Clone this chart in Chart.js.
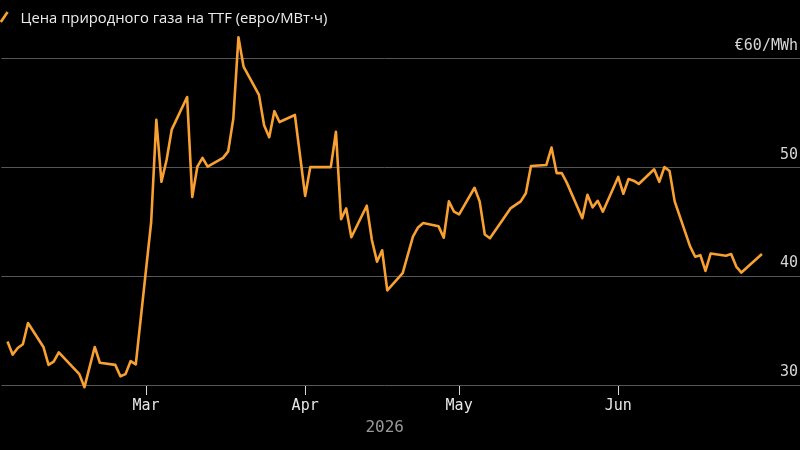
<!DOCTYPE html>
<html>
<head>
<meta charset="utf-8">
<script src="https://cdn.jsdelivr.net/npm/chart.js@4/dist/chart.umd.min.js"></script>
<style>
  html, body { margin: 0; padding: 0; background: #000; }
  #wrap { width: 800px; height: 450px; background: #000; }
</style>
</head>
<body>
<div id="wrap"><canvas id="c" width="800" height="450"></canvas></div>
<script>
const seriesName = 'Цена природного газа на TTF (евро/МВт·ч)';
const dates = [
  '2026-02-02','2026-02-03','2026-02-04','2026-02-05','2026-02-06',
  '2026-02-09','2026-02-10','2026-02-11','2026-02-12',
  '2026-02-16','2026-02-17','2026-02-19','2026-02-20',
  '2026-02-23','2026-02-24','2026-02-25','2026-02-26','2026-02-27',
  '2026-03-02','2026-03-03','2026-03-04','2026-03-05','2026-03-06',
  '2026-03-09','2026-03-10','2026-03-11','2026-03-12','2026-03-13',
  '2026-03-16','2026-03-17','2026-03-18','2026-03-19','2026-03-20',
  '2026-03-23','2026-03-24','2026-03-25','2026-03-26','2026-03-27',
  '2026-03-30','2026-04-01','2026-04-02',
  '2026-04-06','2026-04-07','2026-04-08','2026-04-09','2026-04-10',
  '2026-04-13','2026-04-14','2026-04-15','2026-04-16','2026-04-17',
  '2026-04-20','2026-04-22','2026-04-23','2026-04-24',
  '2026-04-27','2026-04-28','2026-04-29','2026-04-30','2026-05-01',
  '2026-05-04','2026-05-05','2026-05-06','2026-05-07',
  '2026-05-11','2026-05-13','2026-05-14','2026-05-15',
  '2026-05-18','2026-05-19','2026-05-20','2026-05-21','2026-05-22',
  '2026-05-25','2026-05-26','2026-05-27','2026-05-28','2026-05-29',
  '2026-06-01','2026-06-02','2026-06-03','2026-06-04','2026-06-05',
  '2026-06-08','2026-06-09','2026-06-10','2026-06-11','2026-06-12',
  '2026-06-15','2026-06-16','2026-06-17','2026-06-18','2026-06-19',
  '2026-06-22','2026-06-23','2026-06-24','2026-06-25',
  '2026-06-29'
];
const prices = [
  34.0, 32.8, 33.4, 33.75, 35.7,
  33.5, 31.85, 32.15, 33.0,
  31.0, 29.8, 33.5, 32.05,
  31.85, 30.8, 31.0, 32.2, 31.9,
  45.0, 54.4, 48.7, 50.7, 53.5,
  56.5, 47.3, 50.1, 50.9, 50.1,
  50.9, 51.5, 54.5, 62.0, 59.3,
  56.7, 53.9, 52.8, 55.2, 54.2,
  54.85, 47.4, 50.05,
  50.05, 53.3, 45.25, 46.25, 43.6,
  46.5, 43.35, 41.35, 42.4, 38.7,
  40.3, 43.65, 44.5, 44.9,
  44.6, 43.55, 46.9, 45.95, 45.7,
  48.15, 46.9, 43.85, 43.5,
  46.25, 46.9, 47.65, 50.15,
  50.25, 51.85, 49.5, 49.5, 48.6,
  45.35, 47.5, 46.35, 46.95, 45.95,
  49.15, 47.6, 48.95, 48.8, 48.5,
  49.85, 48.7, 50.05, 49.7, 46.9,
  42.75, 41.8, 41.95, 40.5, 42.1,
  41.9, 42.05, 40.9, 40.35,
  42.05
];
const monthTickDates = ['2026-03-01','2026-04-01','2026-05-01','2026-06-01'];
const monthTickLabels = ['Mar','Apr','May','Jun'];
const yTickValues = [30, 40, 50, 60];
const yTopLabel = '€60/MWh';
const yearLabel = '2026';

const ORIGIN = Date.UTC(2026, 2, 1);
function dayOf(s) {
  const p = s.split('-').map(Number);
  return (Date.UTC(p[0], p[1] - 1, p[2]) - ORIGIN) / 86400000;
}
const points = dates.map((d, i) => ({ x: dayOf(d), y: prices[i] }));
const monthTicks = monthTickDates.map(dayOf);

const LINE = '#f8a031';
const GRID = '#565656';
const MONO = '"DejaVu Sans Mono", monospace';

const legendPlugin = {
  id: 'customLegend',
  afterDraw(chart) {
    const ctx = chart.ctx;
    ctx.save();
    ctx.strokeStyle = LINE;
    ctx.lineWidth = 2.6;
    ctx.lineCap = 'butt';
    ctx.beginPath();
    ctx.moveTo(0.8, 22);
    ctx.lineTo(7.6, 12);
    ctx.stroke();
    ctx.fillStyle = '#ececec';
    ctx.font = '14.8px "Open Sans", sans-serif';
    ctx.textBaseline = 'alphabetic';
    ctx.textAlign = 'left';
    ctx.fillText(seriesName, 20.5, 22.5);
    ctx.restore();
  }
};

const chart = new Chart(document.getElementById('c'), {
  type: 'line',
  data: {
    datasets: [{
      label: seriesName,
      data: points,
      borderColor: LINE,
      borderWidth: 2.6,
      borderJoinStyle: 'round',
      pointRadius: 0,
      tension: 0,
      fill: false,
      clip: false
    }]
  },
  options: {
    responsive: false,
    animation: false,
    parsing: false,
    layout: { padding: { top: 21.3, left: 0, right: 0, bottom: 0 } },
    plugins: {
      legend: { display: false },
      tooltip: { enabled: false }
    },
    scales: {
      x: {
        type: 'linear',
        min: -28.2,
        max: 121.2,
        afterFit(scale) { scale.height = 65; },
        afterBuildTicks(scale) { scale.ticks = monthTicks.map(v => ({ value: v })); },
        grid: {
          drawOnChartArea: false,
          drawTicks: true,
          tickLength: 10,
          tickColor: '#d8d8d8',
          tickWidth: 1
        },
        border: { display: false },
        ticks: {
          color: '#e6e6e6',
          font: { family: MONO, size: 15 },
          padding: 2,
          maxRotation: 0,
          autoSkip: false,
          callback(v) {
            const i = monthTicks.indexOf(v);
            return i >= 0 ? monthTickLabels[i] : '';
          }
        },
        title: {
          display: true,
          text: yearLabel,
          color: '#9a9a9a',
          font: { family: MONO, size: 16 },
          padding: { top: 0, bottom: 13 }
        }
      },
      y: {
        position: 'right',
        min: 30,
        max: 62.67,
        afterFit(scale) { scale.width = 32; },
        afterBuildTicks(scale) { scale.ticks = yTickValues.map(v => ({ value: v })); },
        grid: {
          color: GRID,
          lineWidth: 1,
          drawTicks: true,
          tickLength: 32,
          tickColor: GRID
        },
        border: { display: false },
        ticks: {
          mirror: true,
          padding: 30,
          labelOffset: -13,
          color: '#d6d6d6',
          font: { family: MONO, size: 15 },
          callback(v) { return v === 60 ? yTopLabel : String(v); }
        }
      }
    }
  },
  plugins: [legendPlugin]
});

// fit the ranges to the plot area: 60 at y≈59, 30 at the bottom edge; 1 Mar at x≈145, ~5.14 px per day
const area = chart.chartArea;
chart.options.scales.y.max = 30 + (area.bottom - area.top) * 30 / (area.bottom - 59);
const pxPerDay = 5.141;
const xMin = -(145 - area.left) / pxPerDay;
chart.options.scales.x.min = xMin;
chart.options.scales.x.max = xMin + (area.right - area.left) / pxPerDay;
chart.update();
</script>
</body>
</html>
